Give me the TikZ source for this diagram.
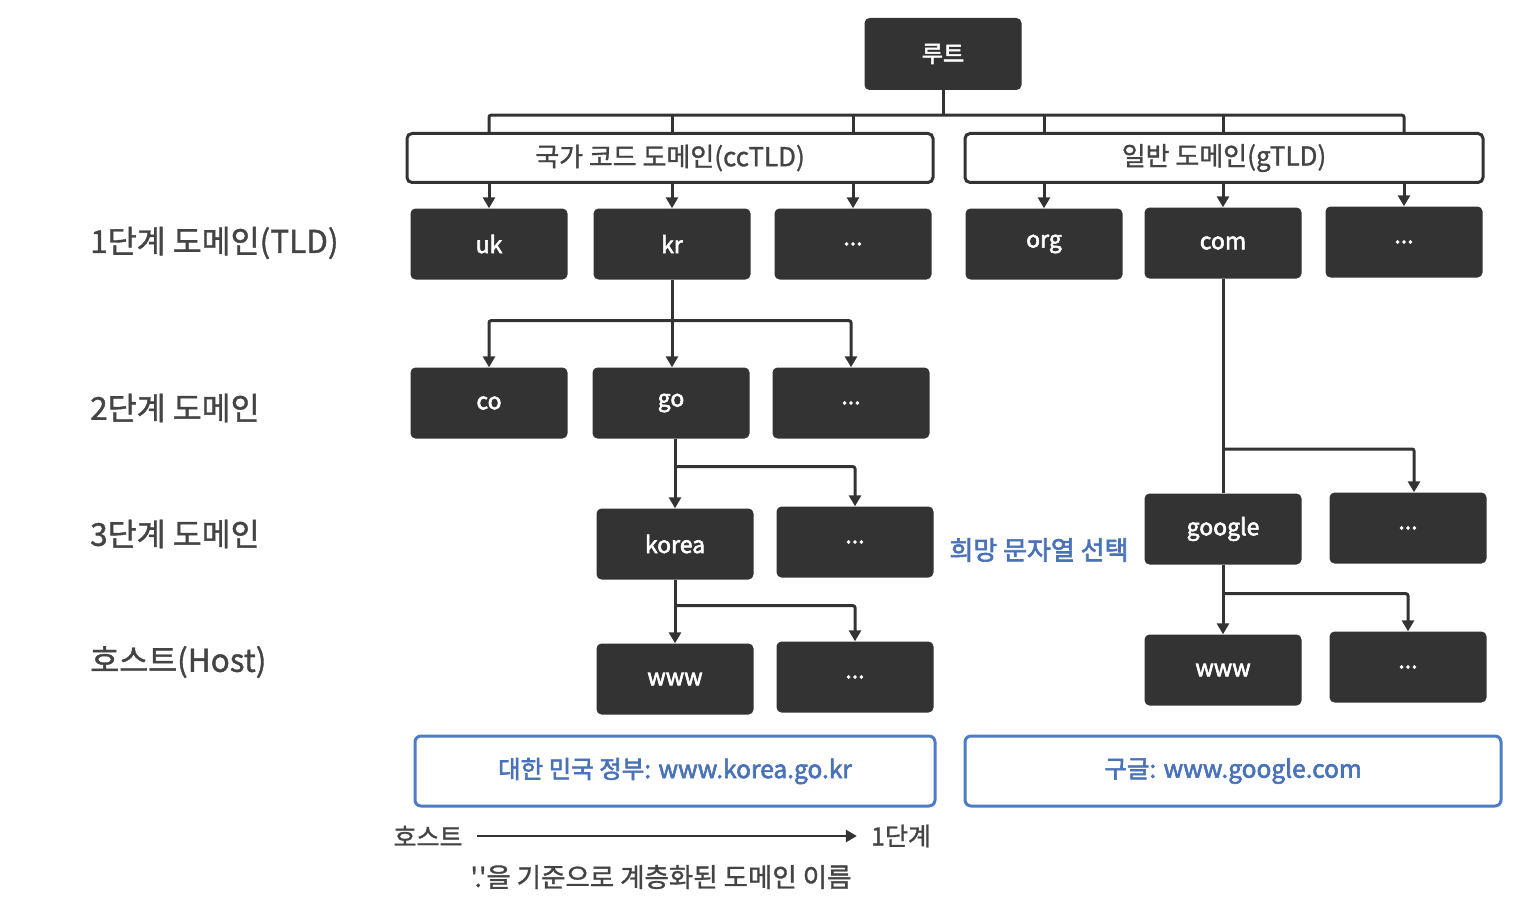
\documentclass[tikz,border=0pt]{standalone}
\usepackage{fontspec}
\setmainfont{Noto Sans CJK KR}
\newfontfamily\med{Noto Sans CJK KR}[FakeBold=1.2]
\newfontfamily\semi{Noto Sans CJK KR}[FakeBold=2.4]
\usetikzlibrary{arrows.meta}
\definecolor{dk}{HTML}{333333}
\definecolor{lbl}{HTML}{444444}
\definecolor{bl}{HTML}{4F7BC4}
\definecolor{blt}{HTML}{4A72B8}
\tikzset{
  dark/.style={fill=dk, draw=none, rounded corners=5pt, minimum width=157pt, minimum height=71pt,
    inner sep=0pt, text=white, font=\fontsize{23}{26}\selectfont\semi},
  group/.style={draw=dk, fill=white, line width=3pt, rounded corners=5pt, minimum height=49pt,
    inner sep=0pt, text=lbl, font=\fontsize{26}{30}\selectfont\med},
  level/.style={anchor=west, inner sep=0pt, text=lbl, font=\fontsize{31.5}{35}\selectfont\med},
  bluebox/.style={draw=bl, line width=3pt, rounded corners=6pt, minimum height=70pt,
    inner sep=0pt, text=blt, font=\fontsize{24.5}{28}\selectfont\semi},
  ln/.style={draw=dk, line width=3pt, rounded corners=2pt},
  arr/.style={ln, -{Triangle[length=11pt,width=12pt]}},
  note/.style={inner sep=0pt, text=lbl, font=\fontsize{25}{28}\selectfont\med}
}
\begin{document}
\begin{tikzpicture}[x=1pt,y=-1pt]
\useasboundingbox (0,0) rectangle (1538,904);
% root
\node[dark, minimum width=157pt, minimum height=72pt] (root) at (943,54) {루트};
% group boxes
\node[group, minimum width=526pt] (cc) at (670,158) {국가 코드 도메인(ccTLD)};
\node[group, minimum width=518pt] (gt) at (1224,158) {일반 도메인(gTLD)};
% TLD row
\node[dark] (uk) at (489,244) {uk};
\node[dark] (kr) at (672,244) {kr};
\node[dark] (cdots) at (853,244) {...};
\node[dark] (org) at (1044,244) {org};
\node[dark] (com) at (1223,243) {com};
\node[dark] (gdots) at (1404,242) {...};
% second level
\node[dark] (co) at (489,403) {co};
\node[dark] (go) at (671,403) {go};
\node[dark] (sdots) at (851,403) {...};
% third level
\node[dark] (korea) at (675,544) {korea};
\node[dark] (tdots) at (855,542) {...};
\node[dark] (google) at (1223,529) {google};
\node[dark] (gtdots) at (1408,528) {...};
% hosts
\node[dark] (www1) at (675,679) {www};
\node[dark] (hdots) at (855,677) {...};
\node[dark] (www2) at (1223,670) {www};
\node[dark] (ghdots) at (1408,667) {...};
% level labels
\node[level] (l1) at (90,243) {1단계 도메인(TLD)};
\node[level] (l2) at (90,408) {2단계 도메인};
\node[level] (l3) at (90,534) {3단계 도메인};
\node[level] (l4) at (90,662) {호스트(Host)};
% blue note
\node[inner sep=0pt, text=blt, font=\fontsize{26}{30}\selectfont\semi] (wish) at (1039,550) {희망 문자열 선택};
% example boxes
\node[bluebox, minimum width=520pt] (ex1) at (675,771) {대한 민국 정부: www.korea.go.kr};
\node[bluebox, minimum width=536pt] (ex2) at (1233,771) {구글: www.google.com};
% bottom
\node[note] (hs) at (428,836) {호스트};
\node[note] (one) at (901,836) {1단계};
\node[note, font=\fontsize{26.5}{30}\selectfont\med] (cap) at (661,877) {'.'을 기준으로 계층화된 도메인 이름};
\draw[arr, line width=2.5pt] ([xshift=14pt]hs.east) -- ([xshift=-14pt]one.west);
% root connectors
\coordinate (rj) at ([yshift=-25pt]root.south);
\draw[ln] (root.south) -- (rj);
\draw[ln] (uk |- cc.north) -- (uk |- rj) -- (gdots |- rj) -- (gdots |- gt.north);
\draw[ln] (kr |- cc.north) -- (kr |- rj);
\draw[ln] (cdots |- cc.north) -- (cdots |- rj);
\draw[ln] (org |- gt.north) -- (org |- rj);
\draw[ln] (com |- gt.north) -- (com |- rj);
% group to TLD arrows
\foreach \n in {uk,kr,cdots} \draw[arr] (\n |- cc.south) -- (\n.north);
\foreach \n in {org,com,gdots} \draw[arr] (\n |- gt.south) -- (\n.north);
% kr children
\coordinate (krj) at ([yshift=-41pt]kr.south);
\draw[ln] (kr.south) -- (krj);
\draw[arr] (krj) -| (co.north);
\draw[arr] (krj) -| (sdots.north);
\draw[arr] (krj) -- (krj |- go.north);
% go children
\coordinate (goj) at ([yshift=-28pt]korea |- go.south);
\draw[ln] (korea |- go.south) -- (goj);
\draw[arr] (goj) -- (korea.north);
\draw[arr] (goj) -| (tdots.north);
% korea children
\coordinate (koj) at ([yshift=-26pt]korea.south);
\draw[ln] (korea.south) -- (koj);
\draw[arr] (koj) -- (www1.north);
\draw[arr] (koj) -| (hdots.north);
% com children
\coordinate (coj) at (1223,449);
\draw[ln] (com.south) -- (google.north);
\draw[arr] (coj) -| ([xshift=6pt]gtdots.north);
% google children
\coordinate (gj) at ([yshift=-29pt]google.south);
\draw[ln] (google.south) -- (gj);
\draw[arr] (gj) -- (www2.north);
\draw[arr] (gj) -| (ghdots.north);
\end{tikzpicture}
\end{document}
